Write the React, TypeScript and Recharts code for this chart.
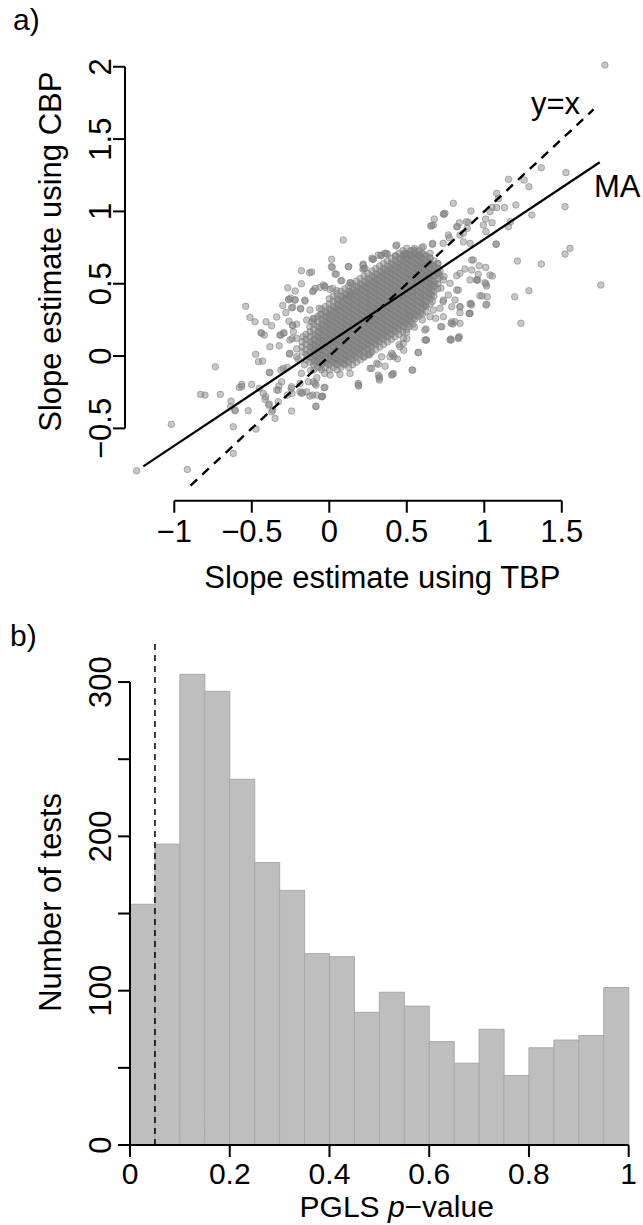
import React from 'react';
import { ComposedChart, Scatter, Bar, XAxis, YAxis, ReferenceLine, Customized } from 'recharts';

const FONT = '"Liberation Sans", Arial, Helvetica, sans-serif';

// ---------- Panel a: slope estimates ----------
const tbpTicks = [-1, -0.5, 0, 0.5, 1, 1.5];
const cbpTicks = [-0.5, 0, 0.5, 1, 1.5, 2];
const tbpDomain: [number, number] = [-1.318, 1.86];
const cbpDomain: [number, number] = [-1.0, 2.1];

// dense (overlapping) core of the cloud: [CBP slope, TBP slopes of the points on that row]
const coreRows: [number, number[]][] = [
  [0.745, [0.5, 0.55]],
  [0.728, [0.475, 0.525, 0.575]],
  [0.71, [0.45, 0.5, 0.55, 0.6, 0.65]],
  [0.693, [0.425, 0.475, 0.525, 0.575, 0.625]],
  [0.675, [0.4, 0.45, 0.5, 0.55, 0.6, 0.65]],
  [0.658, [0.375, 0.425, 0.475, 0.525, 0.575, 0.625, 0.675]],
  [0.64, [0.35, 0.4, 0.45, 0.5, 0.55, 0.6, 0.65, 0.7]],
  [0.623, [0.325, 0.375, 0.425, 0.475, 0.525, 0.575, 0.625, 0.675]],
  [0.605, [0.3, 0.35, 0.4, 0.45, 0.5, 0.55, 0.6, 0.65, 0.7]],
  [0.588, [0.275, 0.325, 0.375, 0.425, 0.475, 0.525, 0.575, 0.625, 0.675, 0.715]],
  [0.57, [0.25, 0.3, 0.35, 0.4, 0.45, 0.5, 0.55, 0.6, 0.65, 0.7]],
  [0.553, [0.225, 0.275, 0.325, 0.375, 0.425, 0.475, 0.525, 0.575, 0.625, 0.675, 0.715]],
  [0.535, [0.2, 0.25, 0.3, 0.35, 0.4, 0.45, 0.5, 0.55, 0.6, 0.65, 0.7]],
  [0.518, [0.175, 0.225, 0.275, 0.325, 0.375, 0.425, 0.475, 0.525, 0.575, 0.625, 0.675]],
  [0.5, [0.15, 0.2, 0.25, 0.3, 0.35, 0.4, 0.45, 0.5, 0.55, 0.6, 0.65, 0.7]],
  [0.483, [0.125, 0.175, 0.225, 0.275, 0.325, 0.375, 0.425, 0.475, 0.525, 0.575, 0.625, 0.675]],
  [0.465, [0.1, 0.15, 0.2, 0.25, 0.3, 0.35, 0.4, 0.45, 0.5, 0.55, 0.6, 0.65, 0.7]],
  [0.448, [0.075, 0.125, 0.175, 0.225, 0.275, 0.325, 0.375, 0.425, 0.475, 0.525, 0.575, 0.625, 0.675]],
  [0.43, [0.05, 0.1, 0.15, 0.2, 0.25, 0.3, 0.35, 0.4, 0.45, 0.5, 0.55, 0.6, 0.65]],
  [0.413, [0.025, 0.075, 0.125, 0.175, 0.225, 0.275, 0.325, 0.375, 0.425, 0.475, 0.525, 0.575, 0.625, 0.675]],
  [0.395, [0.0, 0.05, 0.1, 0.15, 0.2, 0.25, 0.3, 0.35, 0.4, 0.45, 0.5, 0.55, 0.6, 0.65]],
  [0.378, [0.025, 0.075, 0.125, 0.175, 0.225, 0.275, 0.325, 0.375, 0.425, 0.475, 0.525, 0.575, 0.625, 0.665]],
  [0.36, [0.0, 0.05, 0.1, 0.15, 0.2, 0.25, 0.3, 0.35, 0.4, 0.45, 0.5, 0.55, 0.6, 0.65]],
  [0.343, [-0.025, 0.025, 0.075, 0.125, 0.175, 0.225, 0.275, 0.325, 0.375, 0.425, 0.475, 0.525, 0.575, 0.625]],
  [0.325, [-0.05, 0.0, 0.05, 0.1, 0.15, 0.2, 0.25, 0.3, 0.35, 0.4, 0.45, 0.5, 0.55, 0.6]],
  [0.308, [-0.025, 0.025, 0.075, 0.125, 0.175, 0.225, 0.275, 0.325, 0.375, 0.425, 0.475, 0.525, 0.575, 0.625]],
  [0.29, [-0.05, 0.0, 0.05, 0.1, 0.15, 0.2, 0.25, 0.3, 0.35, 0.4, 0.45, 0.5, 0.55, 0.6]],
  [0.273, [-0.075, -0.025, 0.025, 0.075, 0.125, 0.175, 0.225, 0.275, 0.325, 0.375, 0.425, 0.475, 0.525, 0.575]],
  [0.255, [-0.1, -0.05, 0.0, 0.05, 0.1, 0.15, 0.2, 0.25, 0.3, 0.35, 0.4, 0.45, 0.5, 0.55]],
  [0.238, [-0.075, -0.025, 0.025, 0.075, 0.125, 0.175, 0.225, 0.275, 0.325, 0.375, 0.425, 0.475, 0.525]],
  [0.22, [-0.1, -0.05, 0.0, 0.05, 0.1, 0.15, 0.2, 0.25, 0.3, 0.35, 0.4, 0.45, 0.5, 0.54]],
  [0.203, [-0.125, -0.075, -0.025, 0.025, 0.075, 0.125, 0.175, 0.225, 0.275, 0.325, 0.375, 0.425, 0.475, 0.515]],
  [0.185, [-0.1, -0.05, 0.0, 0.05, 0.1, 0.15, 0.2, 0.25, 0.3, 0.35, 0.4, 0.45, 0.5]],
  [0.168, [-0.125, -0.075, -0.025, 0.025, 0.075, 0.125, 0.175, 0.225, 0.275, 0.325, 0.375, 0.425, 0.475]],
  [0.15, [-0.15, -0.1, -0.05, 0.0, 0.05, 0.1, 0.15, 0.2, 0.25, 0.3, 0.35, 0.4, 0.45]],
  [0.133, [-0.125, -0.075, -0.025, 0.025, 0.075, 0.125, 0.175, 0.225, 0.275, 0.325, 0.375, 0.425]],
  [0.115, [-0.15, -0.1, -0.05, 0.0, 0.05, 0.1, 0.15, 0.2, 0.25, 0.3, 0.35, 0.4]],
  [0.098, [-0.175, -0.125, -0.075, -0.025, 0.025, 0.075, 0.125, 0.175, 0.225, 0.275, 0.325, 0.375]],
  [0.08, [-0.15, -0.1, -0.05, 0.0, 0.05, 0.1, 0.15, 0.2, 0.25, 0.3, 0.35]],
  [0.063, [-0.175, -0.125, -0.075, -0.025, 0.025, 0.075, 0.125, 0.175, 0.225, 0.275, 0.325]],
  [0.045, [-0.15, -0.1, -0.05, 0.0, 0.05, 0.1, 0.15, 0.2, 0.25, 0.3]],
  [0.028, [-0.175, -0.125, -0.075, -0.025, 0.025, 0.075, 0.125, 0.175, 0.225, 0.275]],
  [0.01, [-0.15, -0.1, -0.05, 0.0, 0.05, 0.1, 0.15, 0.2, 0.25]],
  [-0.008, [-0.125, -0.075, -0.025, 0.025, 0.075, 0.125, 0.175, 0.225]],
  [-0.025, [-0.15, -0.1, -0.05, 0.0, 0.05, 0.1, 0.15, 0.2]],
  [-0.043, [-0.125, -0.075, -0.025, 0.025, 0.075, 0.125, 0.175]],
  [-0.06, [-0.1, -0.05, 0.0, 0.05, 0.1, 0.15]],
  [-0.078, [-0.075, -0.025, 0.025, 0.075, 0.125]],
  [-0.095, [-0.1, -0.05, 0.0, 0.05]],
];

// the darkest, most crowded middle of the core (extra overlapping points)
const innerCoreRows: [number, number[]][] = [
  [0.701, [0.51, 0.56, 0.61]],
  [0.684, [0.49, 0.54, 0.59]],
  [0.666, [0.46, 0.51, 0.56, 0.61]],
  [0.649, [0.44, 0.49, 0.54, 0.59, 0.64]],
  [0.631, [0.41, 0.46, 0.51, 0.56, 0.61, 0.66]],
  [0.614, [0.39, 0.44, 0.49, 0.54, 0.59, 0.64]],
  [0.596, [0.36, 0.41, 0.46, 0.51, 0.56, 0.61, 0.66]],
  [0.579, [0.34, 0.39, 0.44, 0.49, 0.54, 0.59, 0.64]],
  [0.561, [0.31, 0.36, 0.41, 0.46, 0.51, 0.56, 0.61, 0.66]],
  [0.544, [0.29, 0.34, 0.39, 0.44, 0.49, 0.54, 0.59, 0.64]],
  [0.526, [0.26, 0.31, 0.36, 0.41, 0.46, 0.51, 0.56, 0.61, 0.66]],
  [0.509, [0.24, 0.29, 0.34, 0.39, 0.44, 0.49, 0.54, 0.59, 0.64]],
  [0.491, [0.21, 0.26, 0.31, 0.36, 0.41, 0.46, 0.51, 0.56, 0.61, 0.66]],
  [0.474, [0.19, 0.24, 0.29, 0.34, 0.39, 0.44, 0.49, 0.54, 0.59, 0.64]],
  [0.456, [0.16, 0.21, 0.26, 0.31, 0.36, 0.41, 0.46, 0.51, 0.56, 0.61, 0.66]],
  [0.439, [0.14, 0.19, 0.24, 0.29, 0.34, 0.39, 0.44, 0.49, 0.54, 0.59, 0.64]],
  [0.421, [0.11, 0.16, 0.21, 0.26, 0.31, 0.36, 0.41, 0.46, 0.51, 0.56, 0.61]],
  [0.404, [0.09, 0.14, 0.19, 0.24, 0.29, 0.34, 0.39, 0.44, 0.49, 0.54, 0.59, 0.64]],
  [0.386, [0.06, 0.11, 0.16, 0.21, 0.26, 0.31, 0.36, 0.41, 0.46, 0.51, 0.56, 0.61]],
  [0.369, [0.09, 0.14, 0.19, 0.24, 0.29, 0.34, 0.39, 0.44, 0.49, 0.54, 0.59]],
  [0.351, [0.06, 0.11, 0.16, 0.21, 0.26, 0.31, 0.36, 0.41, 0.46, 0.51, 0.56, 0.61]],
  [0.334, [0.04, 0.09, 0.14, 0.19, 0.24, 0.29, 0.34, 0.39, 0.44, 0.49, 0.54, 0.59]],
  [0.316, [0.01, 0.06, 0.11, 0.16, 0.21, 0.26, 0.31, 0.36, 0.41, 0.46, 0.51, 0.56]],
  [0.299, [0.04, 0.09, 0.14, 0.19, 0.24, 0.29, 0.34, 0.39, 0.44, 0.49, 0.54, 0.59]],
  [0.281, [0.01, 0.06, 0.11, 0.16, 0.21, 0.26, 0.31, 0.36, 0.41, 0.46, 0.51, 0.56]],
  [0.264, [-0.01, 0.04, 0.09, 0.14, 0.19, 0.24, 0.29, 0.34, 0.39, 0.44, 0.49, 0.54]],
  [0.246, [-0.04, 0.01, 0.06, 0.11, 0.16, 0.21, 0.26, 0.31, 0.36, 0.41, 0.46, 0.51]],
  [0.229, [-0.01, 0.04, 0.09, 0.14, 0.19, 0.24, 0.29, 0.34, 0.39, 0.44, 0.49]],
  [0.211, [-0.04, 0.01, 0.06, 0.11, 0.16, 0.21, 0.26, 0.31, 0.36, 0.41, 0.46]],
  [0.194, [-0.06, -0.01, 0.04, 0.09, 0.14, 0.19, 0.24, 0.29, 0.34, 0.39, 0.44]],
  [0.176, [-0.04, 0.01, 0.06, 0.11, 0.16, 0.21, 0.26, 0.31, 0.36, 0.41]],
  [0.159, [-0.06, -0.01, 0.04, 0.09, 0.14, 0.19, 0.24, 0.29, 0.34, 0.39]],
  [0.141, [-0.09, -0.04, 0.01, 0.06, 0.11, 0.16, 0.21, 0.26, 0.31, 0.36]],
  [0.124, [-0.06, -0.01, 0.04, 0.09, 0.14, 0.19, 0.24, 0.29, 0.34]],
  [0.106, [-0.09, -0.04, 0.01, 0.06, 0.11, 0.16, 0.21, 0.26, 0.31]],
  [0.089, [-0.11, -0.06, -0.01, 0.04, 0.09, 0.14, 0.19, 0.24, 0.29]],
  [0.071, [-0.09, -0.04, 0.01, 0.06, 0.11, 0.16, 0.21, 0.26]],
  [0.054, [-0.11, -0.06, -0.01, 0.04, 0.09, 0.14, 0.19, 0.24]],
  [0.036, [-0.09, -0.04, 0.01, 0.06, 0.11, 0.16, 0.21]],
  [0.019, [-0.11, -0.06, -0.01, 0.04, 0.09, 0.14, 0.19]],
  [0.001, [-0.09, -0.04, 0.01, 0.06, 0.11, 0.16]],
  [-0.017, [-0.06, -0.01, 0.04, 0.09, 0.14]],
  [-0.034, [-0.09, -0.04, 0.01, 0.06, 0.11]],
  [-0.052, [-0.06, -0.01, 0.04, 0.09]],
];

// individually visible points around the core: [TBP slope, CBP slope]
const spreadPoints: [number, number][] = [
  [-0.735, -0.074], [-0.83, -0.265], [-0.802, -0.27], [-0.703, -0.265], [-0.634, -0.311],
  [-0.608, -0.373], [-0.636, -0.35], [-0.581, -0.217], [-1.019, -0.472], [-0.619, -0.489],
  [-0.619, -0.673], [-1.243, -0.793], [-0.916, -0.784],
  [-0.268, 0.472], [-0.107, 0.445], [-0.539, 0.344], [-0.262, 0.389], [-0.221, 0.389],
  [-0.243, 0.334], [-0.185, 0.325], [-0.157, 0.38], [-0.512, 0.267], [-0.479, 0.237],
  [-0.408, 0.237], [-0.372, 0.21], [-0.441, 0.161], [-0.419, 0.145], [-0.314, 0.145],
  [-0.297, 0.157], [-0.236, 0.21], [-0.232, 0.168], [-0.383, 0.064], [-0.323, 0.071],
  [-0.475, 0.012], [-0.457, -0.039], [-0.43, -0.035], [-0.254, 0.019], [-0.387, -0.113],
  [-0.297, -0.085], [-0.565, -0.196], [-0.501, -0.196],
  [0.09, 0.802], [0.015, 0.669], [0.019, 0.613], [0.123, 0.618], [0.219, 0.636],
  [0.224, 0.606], [0.28, 0.669], [0.332, 0.694], [0.366, 0.71], [0.43, 0.761],
  [0.43, 0.692], [-0.114, 0.581], [0.037, 0.567], [0.075, 0.521], [0.134, 0.507],
  [-0.039, 0.491], [-0.028, 0.475], [0.022, 0.468], [-0.18, 0.59], [-0.127, 0.576],
  [1.08, 1.125], [0.8, 1.056], [0.914, 1.003], [0.74, 0.98], [0.677, 0.947],
  [0.661, 0.901], [0.897, 0.925], [1.009, 0.947], [1.037, 0.998], [1.08, 1.026],
  [0.826, 0.894], [0.768, 0.837], [0.774, 0.818], [0.865, 0.849], [0.89, 0.883],
  [0.994, 0.906], [1.011, 0.86], [1.075, 0.772], [0.665, 0.772], [0.735, 0.779],
  [0.596, 0.749], [0.553, 0.726], [0.482, 0.703], [0.521, 0.703], [0.919, 0.664],
  [0.968, 0.624], [1.009, 0.613], [1.037, 0.56], [0.961, 0.565], [0.951, 0.526],
  [1.005, 0.507], [1.015, 0.484], [1.052, 0.553], [0.875, 0.602], [0.822, 0.555],
  [0.843, 0.572], [0.832, 0.456], [0.811, 0.387], [0.843, 0.341], [0.903, 0.295],
  [0.914, 0.364], [0.972, 0.417], [1.015, 0.358], [0.79, 0.237], [0.811, 0.237],
  [0.719, 0.203], [0.783, 0.118], [0.832, 0.127], [0.624, 0.111], [0.624, 0.187],
  [0.574, 0.026], [0.538, -0.097], [0.409, -0.127], [0.417, -0.005], [0.403, 0.019],
  [0.499, 0.164], [0.478, 0.122], [0.671, 0.318], [0.714, 0.33], [0.686, 0.261],
  [0.768, 0.422], [0.735, 0.376], [0.682, 0.606], [0.703, 0.572], [0.624, 0.572],
  [0.596, 0.537],
  [0.258, 0.007], [0.338, -0.005], [0.409, 0.007], [0.316, -0.057], [0.263, -0.085],
  [0.413, -0.12], [0.323, -0.143], [0.187, -0.189], [0.134, -0.12], [0.069, -0.127],
  [0.005, -0.131], [-0.092, 0.468], [0.134, 0.422], [-0.114, 0.237],
  [-0.565, -0.212], [-0.452, -0.223], [-0.426, -0.258], [-0.415, -0.299], [-0.387, -0.332],
  [-0.372, -0.385], [-0.35, -0.431], [-0.608, -0.378], [-0.523, -0.378], [-0.473, -0.505],
  [-0.329, -0.316], [-0.329, -0.235], [-0.307, -0.178], [-0.243, -0.38], [-0.271, -0.27],
  [-0.189, -0.247], [-0.172, -0.254], [-0.125, -0.277], [-0.086, -0.346], [-0.043, -0.277],
  [-0.028, -0.217], [-0.086, -0.201], [-0.103, -0.178], [0.187, -0.201], [0.323, -0.166],
  [1.778, 2.012], [1.368, 1.302], [1.527, 1.268], [1.156, 1.222], [1.257, 1.217],
  [1.288, 1.171], [1.09, 1.088], [1.13, 1.026], [1.05, 1.028], [1.204, 1.044],
  [1.307, 0.975], [1.521, 1.033], [0.746, 0.987], [0.653, 0.899], [0.839, 0.922],
  [0.884, 0.929], [1.05, 0.922], [1.156, 0.894], [1.169, 0.929], [1.077, 0.775],
  [1.214, 0.657], [1.368, 0.636], [1.521, 0.705], [1.553, 0.745], [1.752, 0.491],
  [1.196, 0.41], [1.288, 0.452], [0.985, 0.415], [0.275, 0.676], [0.336, 0.698],
  [0.375, 0.705], [0.014, 0.618], [0.045, 0.567], [0.125, 0.618], [0.137, 0.507],
  [0.217, 0.629], [0.217, 0.6],
  [-0.384, -0.115], [-0.312, -0.097], [-0.272, -0.078], [-0.41, -0.281], [-0.392, -0.339],
  [-0.365, -0.373], [-0.325, -0.207], [-0.246, -0.224], [-0.241, -0.258], [-0.18, -0.258],
  [-0.108, -0.27], [-0.087, -0.35], [-0.048, -0.281], [-0.034, -0.217], [0.19, -0.207],
  [0.323, -0.154], [0.402, -0.131], [0.534, -0.097], [0.574, 0.023], [0.627, 0.111],
  [0.786, 0.111], [0.833, 0.122], [0.786, 0.226], [0.918, 0.353], [1.011, 0.353],
  [0.905, 0.295], [1.019, 0.41], [0.958, 0.526], [1.011, 0.498], [1.236, 0.226],
  [-0.2, -0.02], [-0.16, -0.06], [-0.12, -0.1], [-0.18, -0.12], [-0.08, -0.15],
  [-0.14, 0.0], [-0.21, 0.05], [-0.06, -0.08], [-0.03, -0.12], [-0.1, -0.04],
  [-0.22, 0.45], [-0.18, 0.5], [-0.25, 0.4], [-0.28, 0.3], [-0.26, 0.24],
  [-0.24, 0.12], [-0.3, 0.35], [-0.34, 0.27],
  [0.45, 0.08], [0.5, 0.12], [0.55, 0.2], [0.6, 0.25], [0.62, 0.35],
  [0.66, 0.42], [0.72, 0.47], [0.74, 0.55], [0.7, 0.64], [0.65, 0.68],
  [0.58, 0.7], [0.48, 0.04], [0.44, -0.02], [0.36, -0.07], [0.52, 0.28], [0.68, 0.5],
  [0.23, 0.607], [0.284, 0.669], [0.316, 0.698], [0.359, 0.71], [0.435, 0.768], [0.08, 0.521],
  [-0.103, 0.452], [-0.06, 0.475], [-0.028, 0.484], [0.005, 0.461], [0.048, 0.452],
  [-0.262, 0.392], [-0.221, 0.387], [-0.157, 0.387],
  [-0.236, 0.337], [-0.185, 0.33], [-0.125, 0.318], [-0.065, 0.33],
  [-0.436, 0.157], [-0.318, 0.145], [-0.292, 0.161],
  [-0.236, 0.214], [-0.21, 0.221], [-0.146, 0.249], [-0.103, 0.261], [-0.06, 0.284], [-0.017, 0.295],
  [-0.254, 0.111], [-0.21, 0.122], [-0.168, 0.133],
  [-0.258, 0.014], [-0.21, -0.005],
  [-0.339, -0.235], [-0.243, -0.212], [-0.189, -0.189], [-0.146, -0.247], [-0.081, -0.27],
  [-0.049, -0.281], [-0.135, -0.178], [-0.092, -0.189],
  [0.273, -0.085], [0.316, -0.131], [0.392, -0.005], [0.306, -0.05], [0.263, 0.019], [0.219, -0.005],
  [0.456, 0.064], [0.478, 0.088],
  [0.617, 0.111], [0.617, 0.18], [0.725, 0.203], [0.779, 0.111], [0.839, 0.134], [0.796, 0.221],
  [0.843, 0.226], [0.908, 0.295], [0.843, 0.3],
  [0.65, 0.272], [0.736, 0.272], [0.736, 0.387], [0.79, 0.341], [0.843, 0.341], [0.908, 0.36],
  [0.822, 0.456], [0.908, 0.526], [0.951, 0.526], [0.919, 0.595], [0.929, 0.664], [0.736, 0.526], [0.779, 0.503],
  [0.908, 0.779], [0.865, 0.79], [0.843, 0.837], [0.822, 0.894],
  [0.671, 0.906], [0.736, 0.982],
  [0.667, 0.779], [0.606, 0.756], [0.542, 0.733], [0.488, 0.71],
];

// fitted lines (endpoints in data units)
const maLine = [{ tbp: -1.2, cbp: -0.763 }, { tbp: 1.745, cbp: 1.34 }];
const identityLine = [{ tbp: -0.895, cbp: -0.895 }, { tbp: 1.705, cbp: 1.705 }];

const rowsToPoints = (rows: [number, number[]][]) =>
  rows.flatMap(([cbp, xs]) => xs.map((tbp) => ({ tbp, cbp })));

const scatterData = [
  ...rowsToPoints(coreRows),
  ...rowsToPoints(innerCoreRows),
  ...spreadPoints.map(([tbp, cbp]) => ({ tbp, cbp })),
];

// ---------- Panel b: PGLS p-value histogram ----------
const binStarts = [0, 0.05, 0.1, 0.15, 0.2, 0.25, 0.3, 0.35, 0.4, 0.45, 0.5, 0.55, 0.6, 0.65, 0.7, 0.75, 0.8, 0.85, 0.9, 0.95];
const binCounts = [156, 195, 305, 294, 237, 183, 165, 124, 122, 86, 99, 90, 67, 53, 75, 45, 63, 68, 71, 102];
const pTicks = [0, 0.2, 0.4, 0.6, 0.8, 1];
const countTicks = [0, 50, 100, 150, 200, 250, 300];
const countLabelTicks = [0, 100, 200, 300];
const alphaLevel = 0.05;

const histData = binStarts.map((start, i) => ({ bin: `b${i}`, start, count: binCounts[i] }));

const fmtSigned = (v: number) => (v < 0 ? `\u2212${Math.abs(v)}` : `${v}`);

const Dot = (p: any) => (
  <circle cx={p.cx} cy={p.cy} r={3.3} fill="#808080" fillOpacity={0.45} stroke="#808080" strokeOpacity={0.55} strokeWidth={1} />
);
const NoDot = () => <g />;

const TbpTick = ({ x, payload }: any) => (
  <text x={x} y={542} textAnchor="middle" fontFamily={FONT} fontSize={31} fill="#000">
    {fmtSigned(payload.value)}
  </text>
);

const CbpTick = ({ y, payload }: any) => (
  <text x={111} y={y} transform={`rotate(-90 111 ${y})`} textAnchor="middle" fontFamily={FONT} fontSize={31} fill="#000">
    {fmtSigned(payload.value)}
  </text>
);

const PTick = ({ x, payload }: any) => (
  <text x={x} y={569} textAnchor="middle" fontFamily={FONT} fontSize={30} fill="#000">
    {`${payload.value}`}
  </text>
);

const CountTick = ({ y, payload }: any) =>
  countLabelTicks.includes(payload.value) ? (
    <text x={111} y={y} transform={`rotate(-90 111 ${y})`} textAnchor="middle" fontFamily={FONT} fontSize={31} fill="#000">
      {`${payload.value}`}
    </text>
  ) : (
    <g />
  );

const PanelATexts = () => (
  <g fontFamily={FONT} fill="#000">
    <text x={13} y={30} fontSize={30}>a)</text>
    <text x={531} y={114} fontSize={31}>y=x</text>
    <text x={594} y={197} fontSize={31}>MA</text>
    <text x={61} y={251.7} transform="rotate(-90 61 251.7)" textAnchor="middle" fontSize={31}>
      Slope estimate using CBP
    </text>
    <text x={382.4} y={588} textAnchor="middle" fontSize={31}>Slope estimate using TBP</text>
  </g>
);

const PanelBTexts = () => (
  <g fontFamily={FONT} fill="#000">
    <text x={10} y={31} fontSize={30}>b)</text>
    <text x={160} y={520} fontSize={29}>p=0.05</text>
    <text x={61} y={287.4} transform="rotate(-90 61 287.4)" textAnchor="middle" fontSize={31}>
      Number of tests
    </text>
    <text x={396.7} y={602} textAnchor="middle" fontSize={30}>
      PGLS <tspan fontStyle="italic">p</tspan>{'\u2212value'}
    </text>
  </g>
);

const axisStroke = { stroke: '#000', strokeWidth: 2 };

export default function App() {
  return (
    <div style={{ position: 'absolute', left: 0, top: 0, width: 643, height: 1225, background: '#fff', fontFamily: FONT }}>
      <div style={{ position: 'absolute', left: 0, top: 0 }}>
        <ComposedChart width={643} height={612} margin={{ top: 52.3, right: 25.4, bottom: 0, left: 65 }}>
          <XAxis
            type="number"
            dataKey="tbp"
            domain={tbpDomain}
            allowDataOverflow
            ticks={tbpTicks}
            axisLine={false}
            tickSize={12}
            tickLine={axisStroke}
            tick={<TbpTick />}
            height={111.3}
            interval={0}
          />
          <YAxis
            type="number"
            dataKey="cbp"
            domain={cbpDomain}
            allowDataOverflow
            ticks={cbpTicks}
            axisLine={false}
            tickSize={12}
            tickLine={axisStroke}
            tick={<CbpTick />}
            width={60}
            interval={0}
          />
          <ReferenceLine
            segment={[{ x: tbpTicks[0], y: cbpDomain[0] }, { x: tbpTicks[tbpTicks.length - 1], y: cbpDomain[0] }]}
            stroke="#000"
            strokeWidth={2}
            ifOverflow="visible"
          />
          <ReferenceLine
            segment={[{ x: tbpDomain[0], y: cbpTicks[0] }, { x: tbpDomain[0], y: cbpTicks[cbpTicks.length - 1] }]}
            stroke="#000"
            strokeWidth={2}
            ifOverflow="visible"
          />
          <Scatter data={scatterData} dataKey="cbp" shape={<Dot />} isAnimationActive={false} />
          <Scatter
            data={identityLine}
            dataKey="cbp"
            shape={<NoDot />}
            line={{ stroke: '#000', strokeWidth: 2.4, strokeDasharray: '9 7', fill: 'none' }}
            isAnimationActive={false}
          />
          <Scatter
            data={maLine}
            dataKey="cbp"
            shape={<NoDot />}
            line={{ stroke: '#000', strokeWidth: 2.2, fill: 'none' }}
            isAnimationActive={false}
          />
          <Customized component={PanelATexts} />
        </ComposedChart>
      </div>
      <div style={{ position: 'absolute', left: 0, top: 615 }}>
        <ComposedChart
          width={643}
          height={610}
          data={histData}
          barCategoryGap={0}
          barGap={0}
          margin={{ top: 27.7, right: 14.3, bottom: 0, left: 70 }}
        >
          <XAxis
            xAxisId="num"
            dataKey="start"
            type="number"
            domain={[0, 1]}
            allowDataOverflow
            ticks={pTicks}
            axisLine={false}
            tickSize={12}
            tickLine={axisStroke}
            tick={<PTick />}
            height={80}
            interval={0}
          />
          <XAxis xAxisId="bins" dataKey="bin" type="category" hide height={0} />
          <YAxis
            type="number"
            domain={[0, 325.5]}
            allowDataOverflow
            ticks={countTicks}
            axisLine={false}
            tickSize={12}
            tickLine={axisStroke}
            tick={<CountTick />}
            width={60}
            interval={0}
          />
          <Bar xAxisId="bins" dataKey="count" fill="#bebebe" stroke="#a8a8a8" strokeWidth={1} isAnimationActive={false} />
          <ReferenceLine xAxisId="num" x={alphaLevel} stroke="#000" strokeWidth={1.5} strokeDasharray="6 5" ifOverflow="visible" />
          <ReferenceLine
            xAxisId="num"
            segment={[{ x: 0, y: 0 }, { x: 1, y: 0 }]}
            stroke="#000"
            strokeWidth={2}
            ifOverflow="visible"
          />
          <ReferenceLine
            xAxisId="num"
            segment={[{ x: 0, y: 0 }, { x: 0, y: countTicks[countTicks.length - 1] }]}
            stroke="#000"
            strokeWidth={2}
            ifOverflow="visible"
          />
          <Customized component={PanelBTexts} />
        </ComposedChart>
      </div>
    </div>
  );
}
